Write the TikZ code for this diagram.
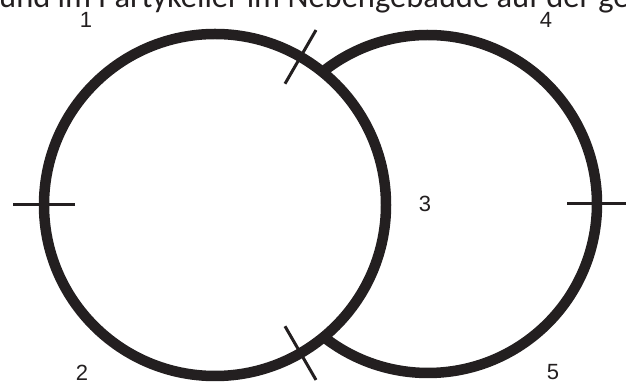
\documentclass[tikz,border=0pt]{standalone}
\usepackage{fontspec}
\setmainfont{Liberation Sans}
\newfontfamily\topfont{Carlito}
\definecolor{ink}{RGB}{35,31,32}
\tikzset{
  ring/.style={draw=ink, line width=10.5pt},
  tickmark/.style={draw=ink, line width=3pt},
  num/.style={font=\fontsize{22}{24}\selectfont, text=ink, inner sep=0pt}
}
\begin{document}
\begin{tikzpicture}[x=1pt,y=1pt]
\useasboundingbox (0,0) rectangle (626,385);
\begin{scope}
\clip (0,0) rectangle (626,385);
\node[anchor=base west, inner sep=0pt, font=\topfont\fontsize{32.5}{34}\selectfont, text=ink] (top) at (-1,377) {und im Partykeller im Nebengebäude auf der ge};
\end{scope}
\coordinate (L) at (215,180);
\coordinate (R) at (428,181);
% left circle
\draw[ring] (L) circle[radius=171];
% right circle, outside part only
\draw[ring] ([shift={(128.4:169)}]R) arc[start angle=128.4, end angle=-128.4, radius=169];
% ticks
\draw[tickmark, shift={(L)}] (60:140) -- (60:202);
\draw[tickmark, shift={(L)}] (-60:140) -- (-60:202);
\draw[tickmark, shift={(L)}] (180:140) -- (180:202);
\draw[tickmark, shift={(R)}] (0:139) -- (0:200);
% labels
\node[num] (n1) at (86,365) {1};
\node[num] (n2) at (82,12) {2};
\node[num] (n3) at (425,181) {3};
\node[num] (n4) at (546,365) {4};
\node[num] (n5) at (553,13) {5};
\end{tikzpicture}
\end{document}
